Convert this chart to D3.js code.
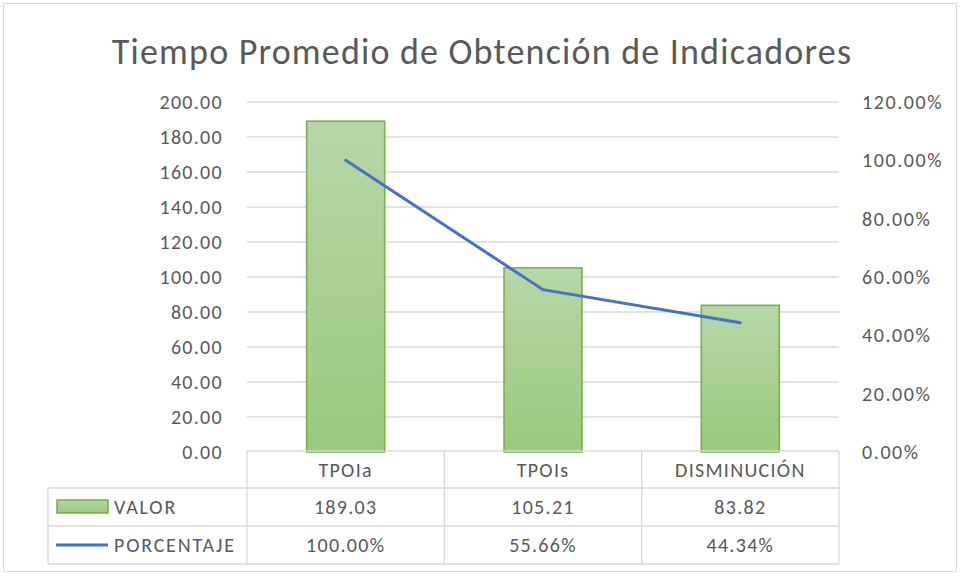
<!DOCTYPE html>
<html>
<head>
<meta charset="utf-8">
<script src="https://d3js.org/d3.v7.min.js"></script>
<style>
  body { margin: 0; background: #fff; }
  svg text { font-family: Carlito, "Liberation Sans", sans-serif; fill: #595959; }
</style>
</head>
<body>
<svg width="961" height="576"></svg>
<script>
var categories = ['TPOIa', 'TPOIs', 'DISMINUCIÓN'];
var valor = [189.03, 105.21, 83.82];
var porcentaje = [1.0, 0.5566, 0.4434];
var leftTicks = [0, 20, 40, 60, 80, 100, 120, 140, 160, 180, 200];
var rightTicks = [0, 0.2, 0.4, 0.6, 0.8, 1.0, 1.2];
var seriesNames = ['VALOR', 'PORCENTAJE'];

var svg = d3.select('svg');
var plot = {left: 247, right: 839, top: 102, bottom: 452};

// chart border
svg.append('rect')
  .attr('x', 3.5).attr('y', 3.5)
  .attr('width', 953).attr('height', 568)
  .attr('fill', '#fff').attr('stroke', '#d9d9d9');

svg.append('text')
  .attr('x', 482).attr('y', 64)
  .attr('text-anchor', 'middle')
  .style('font-size', '36px')
  .style('letter-spacing', '1.2px')
  .style('font-weight', 300)
  .text('Tiempo Promedio de Obtención de Indicadores');

var x = d3.scaleBand().domain(categories).range([plot.left, plot.right]).paddingInner(0).paddingOuter(0);
var y = d3.scaleLinear().domain([0, 200]).range([plot.bottom, plot.top]);
var y2 = d3.scaleLinear().domain([0, 1.2]).range([plot.bottom, plot.top]);

// gridlines
svg.append('g').selectAll('line')
  .data(leftTicks.slice(1))
  .enter().append('line')
  .attr('x1', plot.left).attr('x2', plot.right)
  .attr('y1', function(d) { return y(d); })
  .attr('y2', function(d) { return y(d); })
  .attr('stroke', '#d9d9d9').attr('stroke-width', 1.3);

var labelFont = '20px';
var labelSpacing = '1.3px';

// left axis
var leftAxis = svg.append('g')
  .attr('transform', 'translate(' + 223 + ',0)')
  .call(d3.axisLeft(y).tickValues(leftTicks).tickFormat(d3.format('.2f')).tickSize(0).tickPadding(0));
leftAxis.select('.domain').remove();
leftAxis.selectAll('text').style('font-size', labelFont).style('letter-spacing', labelSpacing).attr('fill', '#595959');

// right axis
var rightAxis = svg.append('g')
  .attr('transform', 'translate(' + 862 + ',0)')
  .call(d3.axisRight(y2).tickValues(rightTicks).tickFormat(d3.format('.2%')).tickSize(0).tickPadding(0));
rightAxis.select('.domain').remove();
rightAxis.selectAll('text').style('font-size', labelFont).style('letter-spacing', '1.6px').attr('fill', '#595959');

// gradient for bars
var grad = svg.append('defs').append('linearGradient')
  .attr('id', 'barGrad').attr('x1', 0).attr('y1', 0).attr('x2', 0).attr('y2', 1);
grad.append('stop').attr('offset', '0%').attr('stop-color', '#b6d6a8');
grad.append('stop').attr('offset', '100%').attr('stop-color', '#9cc97d');

var barW = 78;
svg.append('g').selectAll('rect')
  .data(valor)
  .enter().append('rect')
  .attr('x', function(d, i) { return x(categories[i]) + x.bandwidth() / 2 - barW / 2; })
  .attr('y', function(d) { return y(d); })
  .attr('width', barW)
  .attr('height', function(d) { return y(0) - y(d); })
  .attr('fill', 'url(#barGrad)')
  .attr('stroke', '#70ad47').attr('stroke-width', 1.5);

// line
var line = d3.line()
  .x(function(d, i) { return x(categories[i]) + x.bandwidth() / 2; })
  .y(function(d) { return y2(d); });
svg.append('path')
  .datum(porcentaje)
  .attr('d', line)
  .attr('fill', 'none')
  .attr('stroke', '#4472c4').attr('stroke-width', 3)
  .attr('stroke-linecap', 'round');

// data table
var rows = [451, 488, 526, 564];
var tbl = svg.append('g').attr('stroke', '#d9d9d9').attr('stroke-width', 1.3);
tbl.append('line').attr('x1', plot.left).attr('x2', plot.right).attr('y1', rows[0]).attr('y2', rows[0]);
rows.slice(1).forEach(function(r) {
  tbl.append('line').attr('x1', 48).attr('x2', plot.right).attr('y1', r).attr('y2', r);
});
tbl.append('line').attr('x1', 48).attr('x2', 48).attr('y1', rows[1]).attr('y2', rows[3]);
x.domain().forEach(function(c) {
  tbl.append('line').attr('x1', x(c)).attr('x2', x(c)).attr('y1', rows[0]).attr('y2', rows[3]);
});
tbl.append('line').attr('x1', plot.right).attr('x2', plot.right).attr('y1', rows[0]).attr('y2', rows[3]);

var tableFont = '20px';
var tableSpacing = '1.3px';
svg.append('g').selectAll('text')
  .data(categories)
  .enter().append('text')
  .attr('x', function(d) { return x(d) + x.bandwidth() / 2; })
  .attr('y', (rows[0] + rows[1]) / 2 + 7)
  .attr('text-anchor', 'middle')
  .style('font-size', tableFont).style('letter-spacing', tableSpacing)
  .text(function(d) { return d; });

svg.append('g').selectAll('text')
  .data(valor)
  .enter().append('text')
  .attr('x', function(d, i) { return x(categories[i]) + x.bandwidth() / 2; })
  .attr('y', (rows[1] + rows[2]) / 2 + 7)
  .attr('text-anchor', 'middle')
  .style('font-size', tableFont).style('letter-spacing', tableSpacing)
  .text(function(d) { return d3.format('.2f')(d); });

svg.append('g').selectAll('text')
  .data(porcentaje)
  .enter().append('text')
  .attr('x', function(d, i) { return x(categories[i]) + x.bandwidth() / 2; })
  .attr('y', (rows[2] + rows[3]) / 2 + 7)
  .attr('text-anchor', 'middle')
  .style('font-size', tableFont).style('letter-spacing', tableSpacing)
  .text(function(d) { return d3.format('.2%')(d); });

// legend keys in table
svg.append('rect')
  .attr('x', 57).attr('y', 500).attr('width', 51).attr('height', 13)
  .attr('fill', 'url(#barGrad)').attr('stroke', '#70ad47').attr('stroke-width', 1.5);
svg.append('line')
  .attr('x1', 56).attr('x2', 108).attr('y1', 545).attr('y2', 545)
  .attr('stroke', '#4472c4').attr('stroke-width', 3);
svg.append('g').selectAll('text')
  .data(seriesNames)
  .enter().append('text')
  .attr('x', 114)
  .attr('y', function(d, i) { return (rows[i + 1] + rows[i + 2]) / 2 + 7; })
  .style('font-size', tableFont).style('letter-spacing', '1.8px')
  .text(function(d) { return d; });
</script>
</body>
</html>
